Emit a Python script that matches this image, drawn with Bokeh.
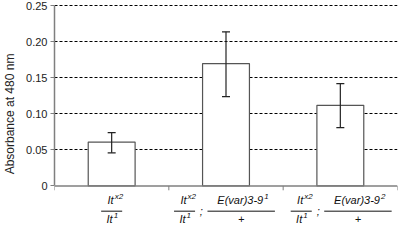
from bokeh.plotting import figure
from bokeh.models import Range1d, FixedTicker
from bokeh.core.properties import value
from bokeh.embed import file_html
from bokeh.resources import INLINE

# ---- data ----
categories = ["It^x2/It^1", "It^x2/It^1 ; E(var)3-9^1/+", "It^x2/It^1 ; E(var)3-9^2/+"]
absorbance = [0.061, 0.170, 0.112]
err_upper = [0.074, 0.214, 0.142]
err_lower = [0.046, 0.124, 0.081]
y_ticks = [0, 0.05, 0.10, 0.15, 0.20, 0.25]
y_tick_labels = ["0", "0.05", "0.10", "0.15", "0.20", "0.25"]
y_title = "Absorbance at 480 nm"
label_It = "It"
label_sup_top = "x2"
label_sup_bottom = "1"
label_E = "E(var)3-9"
label_E_sup = ["1", "2"]
label_plus = "+"

FONT = "Liberation Sans"
AX = "#7f7f7f"

p = figure(width=399, height=224, output_backend="svg", toolbar_location=None,
           x_range=Range1d(0, 3), y_range=Range1d(-0.0535, 0.2534),
           min_border_left=44, min_border_right=2, min_border_top=3, min_border_bottom=0)
p.outline_line_color = None
p.xaxis.visible = False
p.xgrid.visible = False

# y axis
ya = p.yaxis[0]
ya.ticker = FixedTicker(ticks=y_ticks)
ya.major_label_overrides = {t: l for t, l in zip(y_ticks, y_tick_labels)}
ya.bounds = (0, 0.25)
ya.minor_tick_line_color = None
ya.major_tick_in = 0
ya.major_tick_out = 4
ya.major_tick_line_color = AX
ya.axis_line_color = AX
ya.axis_line_width = 1.5
ya.major_label_text_font = FONT
ya.major_label_text_font_size = "11px"
ya.major_label_text_color = "#222222"
ya.major_label_standoff = 3
ya.axis_label = y_title
ya.axis_label_text_font = FONT
ya.axis_label_text_font_size = "12px"
ya.axis_label_text_font_style = "normal"
ya.axis_label_text_color = "#222222"
ya.axis_label_standoff = 6

# grid
p.ygrid.ticker = FixedTicker(ticks=y_ticks[1:])
p.ygrid.grid_line_color = "black"
p.ygrid.grid_line_dash = "3 2"
p.ygrid.grid_line_width = 1

xc = [i + 0.5 for i in range(len(categories))]

# bars
p.vbar(x=xc, top=absorbance, bottom=0, width=0.41, fill_color="white",
       line_color="#555555", line_width=1.2)

# error bars
cap = 0.035
p.segment(x0=xc, y0=err_lower, x1=xc, y1=err_upper, line_color="#222222", line_width=1.2)
p.segment(x0=[x - cap for x in xc], y0=err_upper, x1=[x + cap for x in xc], y1=err_upper,
          line_color="#222222", line_width=1.2)
p.segment(x0=[x - cap for x in xc], y0=err_lower, x1=[x + cap for x in xc], y1=err_lower,
          line_color="#222222", line_width=1.2)

# x axis line and ticks
p.segment(x0=[0], y0=[0], x1=[3], y1=[0], line_color=AX, line_width=1.5)
bounds_x = [0, 1, 2, 3]
p.segment(x0=bounds_x, y0=[0] * 4, x1=bounds_x, y1=[-0.006] * 4, line_color=AX, line_width=1)

# category labels (fractions)
y_num = -0.0196
y_line = -0.0350
y_den = -0.0462
sup_dy = -4

It_frac_centers = [0.5, 1.1375, 2.158]
It_half = 0.092
E_frac_centers = [1.633, 2.654]
E_half = 0.295
semicolon_x = [1.283, 2.308]

txt = dict(text_font=value(FONT), text_font_style="italic", text_color="#111111",
           text_baseline="middle")

# It fractions
p.segment(x0=[c - It_half for c in It_frac_centers], y0=[y_line] * 3,
          x1=[c + It_half for c in It_frac_centers], y1=[y_line] * 3,
          line_color="#111111", line_width=1)
p.text(x=It_frac_centers, y=[y_num] * 3, text=[label_It] * 3, text_align="right",
       x_offset=2, text_font_size="11px", **txt)
p.text(x=It_frac_centers, y=[y_num] * 3, text=[label_sup_top] * 3, text_align="left",
       x_offset=3, y_offset=sup_dy, text_font_size="8px", **txt)
p.text(x=It_frac_centers, y=[y_den] * 3, text=[label_It] * 3, text_align="right",
       x_offset=1, text_font_size="11px", **txt)
p.text(x=It_frac_centers, y=[y_den] * 3, text=[label_sup_bottom] * 3, text_align="left",
       x_offset=2, y_offset=sup_dy, text_font_size="8px", **txt)

# semicolons
p.text(x=semicolon_x, y=[y_line] * 2, text=[";"] * 2, text_align="center",
       text_font_size="11px", **txt)

# E fractions
p.segment(x0=[c - E_half for c in E_frac_centers], y0=[y_line] * 2,
          x1=[c + E_half for c in E_frac_centers], y1=[y_line] * 2,
          line_color="#111111", line_width=1)
p.text(x=E_frac_centers, y=[y_num] * 2, text=[label_E] * 2, text_align="right",
       x_offset=22, text_font_size="11px", **txt)
p.text(x=E_frac_centers, y=[y_num] * 2, text=label_E_sup, text_align="left",
       x_offset=23, y_offset=sup_dy, text_font_size="8px", **txt)
p.text(x=E_frac_centers, y=[y_den] * 2, text=[label_plus] * 2, text_align="center",
       text_font_size="11px", **txt)

open("out.html", "w").write(file_html(p, INLINE))
